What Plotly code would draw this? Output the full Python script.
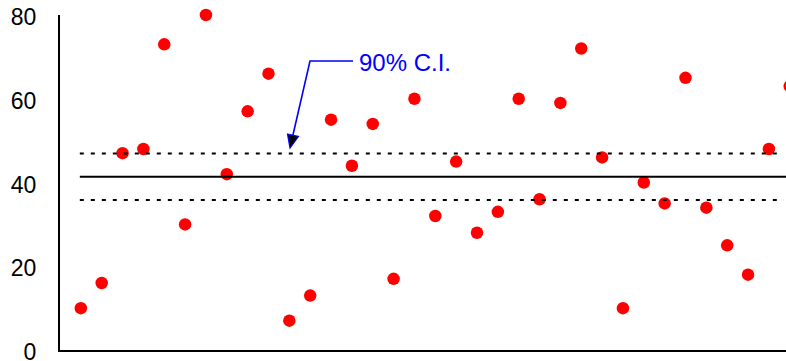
import plotly.graph_objects as go

# Data
sample_index = list(range(1, 36))
values = [10, 16, 47, 48, 73, 30, 80, 42, 57, 66, 7, 13, 55, 44, 54, 17, 60, 32, 45, 28,
          33, 60, 36, 59, 72, 46, 10, 40, 35, 65, 34, 25, 18, 48, 63]
mean_value = 41.4
ci_upper = 46.9
ci_lower = 35.8
y_tick_values = [0, 20, 40, 60, 80]
y_tick_labels = ["0", "20", "40", "60", "80"]
annotation_text = "90% C.I."

W, H = 800, 361
ML, MR, MT, MB = 60, 0, 15, 11
SCALE = 20.85
X_MAX = (W - ML - MR) / SCALE
Y_MAX = 80

def px2x(px):
    return (px - ML) / SCALE

def py2y(py):
    return (H - MB - py) / (H - MT - MB) * Y_MAX

fig = go.Figure()
fig.add_trace(go.Scatter(x=sample_index, y=values, mode="markers",
                         marker=dict(color="#ff0000", size=12.5, line=dict(width=0)),
                         cliponaxis=False, showlegend=False, hoverinfo="skip"))

x_start = 0.95
fig.add_trace(go.Scatter(x=[x_start, px2x(786)], y=[mean_value, mean_value], mode="lines",
                         line=dict(color="black", width=2), showlegend=False, hoverinfo="skip"))
for v in (ci_upper, ci_lower):
    fig.add_trace(go.Scatter(x=[x_start, px2x(780)], y=[v, v], mode="lines",
                             line=dict(color="black", width=2, dash="4px,7px"),
                             showlegend=False, hoverinfo="skip"))

# bent leader line of the annotation
blue = "#0000ff"
fig.add_shape(type="path",
              path=f"M {px2x(353)} {py2y(61)} L {px2x(310)} {py2y(61)} L {px2x(292.5)} {py2y(137)}",
              xref="x", yref="y", line=dict(color=blue, width=1.6), layer="above")
# arrow head
fig.add_shape(type="path",
              path=f"M {px2x(287.5)} {py2y(134)} L {px2x(298.5)} {py2y(136.5)} L {px2x(290)} {py2y(148)} Z",
              xref="x", yref="y", line=dict(color=blue, width=1.2), fillcolor="black", layer="above")

fig.add_annotation(x=px2x(357), y=py2y(62), xref="x", yref="y", text=annotation_text,
                   showarrow=False, xanchor="left", yanchor="middle",
                   font=dict(family="Liberation Sans, Arial, sans-serif", size=24, color=blue))

fig.update_xaxes(range=[0, X_MAX], showline=True, linecolor="black", linewidth=2,
                 showgrid=False, zeroline=False, showticklabels=False, ticks="", automargin=False)
fig.update_yaxes(range=[0, Y_MAX], showline=True, linecolor="black", linewidth=2,
                 showgrid=False, zeroline=False, tickvals=y_tick_values, ticktext=y_tick_labels,
                 ticks="outside", ticklen=17, tickcolor="rgba(0,0,0,0)", automargin=False,
                 ticklabeloverflow="allow", ticklabelshift=2,
                 tickfont=dict(family="Liberation Sans, Arial, sans-serif", size=23, color="black"))

fig.update_layout(width=W, height=H, margin=dict(l=ML, r=MR, t=MT, b=MB),
                  plot_bgcolor="white", paper_bgcolor="white")

fig.write_html("out.html", config={"displayModeBar": False},
               post_script="document.body.style.margin='0';document.body.style.overflow='hidden';")
